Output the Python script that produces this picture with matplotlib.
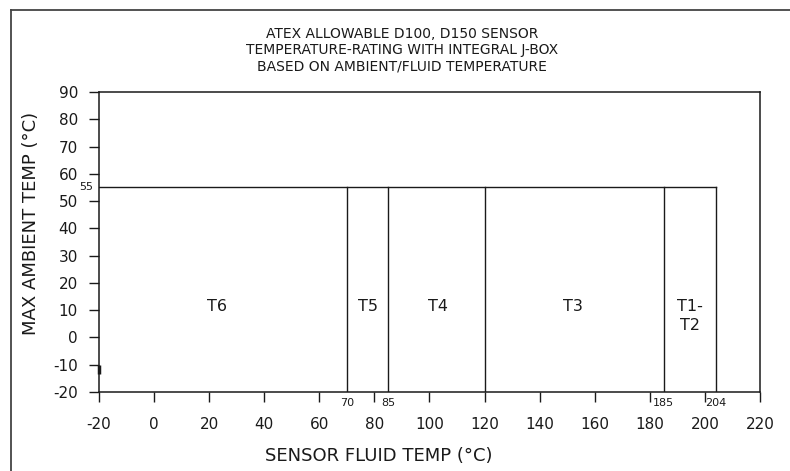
import matplotlib
matplotlib.use("Agg")
import matplotlib.pyplot as plt
from matplotlib.lines import Line2D

# ---- data ----
title_lines = ["ATEX ALLOWABLE D100, D150 SENSOR",
               "TEMPERATURE-RATING WITH INTEGRAL J-BOX",
               "BASED ON AMBIENT/FLUID TEMPERATURE"]
max_ambient = 55
fluid_min = -20
boundaries = [70, 85, 120, 185, 204]
boundary_labels = ["70", "85", "185", "204"]
boundary_label_vals = [70, 85, 185, 204]
classes = ["T6", "T5", "T4", "T3", "T1-", "T2"]
class_x = [23, 77.5, 103, 152, 194.6, 194.6]
class_y = [11.5, 11.5, 11.5, 11.5, 11.5, 4.5]
xticks = list(range(-20, 221, 20))
yticks = list(range(-20, 91, 10))
xlabel = "SENSOR FLUID TEMP (°C)"
ylabel = "MAX AMBIENT TEMP (°C)"

plt.rcParams['font.family'] = ['DejaVu Sans']
plt.rcParams['axes.unicode_minus'] = False
ink = "#1a1a1a"

fig = plt.figure(figsize=(7.9, 4.71), dpi=100)
W, H = 790, 471
ax = fig.add_axes([99 / W, 1 - 392 / H, (760 - 99) / W, (392 - 92) / H])
ax.set_xlim(-20, 220)
ax.set_ylim(-20, 90)

for s in ax.spines.values():
    s.set_color(ink)
    s.set_linewidth(1.1)

ax.set_xticks(xticks)
ax.set_yticks(yticks)
ax.tick_params(axis='both', direction='out', length=7.2, width=1.0,
               color=ink, labelsize=11, labelcolor=ink)
ax.tick_params(axis='x', pad=10.5)
ax.tick_params(axis='y', pad=8)

# rating region lines
ax.plot([fluid_min, boundaries[-1]], [max_ambient, max_ambient], color=ink, lw=1.0)
for b in boundaries:
    ax.plot([b, b], [-20, max_ambient], color=ink, lw=1.0)

# small artifact on y axis
ax.plot([-20, -20], [-10, -13.5], color=ink, lw=2.5, solid_capstyle='butt', clip_on=False)

# class labels
for t, xx, yy in zip(classes, class_x, class_y):
    ax.text(xx, yy, t, ha='center', va='center', fontsize=11.5, color=ink)

# small boundary value labels below axis
for lab, v in zip(boundary_labels, boundary_label_vals):
    ax.annotate(lab, xy=(v, -20), xytext=(0, -4), textcoords='offset points',
                ha='center', va='top', fontsize=8, color=ink)
ax.annotate(str(max_ambient), xy=(-20, max_ambient), xytext=(-4, 0),
            textcoords='offset points', ha='right', va='center', fontsize=8, color=ink)

# axis labels
fig.text(379 / W, 1 - 456 / H, xlabel, ha='center', va='center', fontsize=13, color=ink)
fig.text(31 / W, 1 - 223 / H, ylabel, ha='center', va='center', rotation=90,
         fontsize=13, color=ink)

# title
for i, line in enumerate(title_lines):
    fig.text(402 / W, 1 - (34 + 16 * i) / H, line, ha='center', va='center',
             fontsize=10, color=ink)

# outer border (top and left visible)
fig.add_artist(Line2D([11 / W, 1.0], [1 - 10 / H, 1 - 10 / H], transform=fig.transFigure,
                      color="#444444", lw=1.3))
fig.add_artist(Line2D([11 / W, 11 / W], [1 - 10 / H, 0.0], transform=fig.transFigure,
                      color="#444444", lw=1.3))

fig.savefig("out.png", dpi=100)
